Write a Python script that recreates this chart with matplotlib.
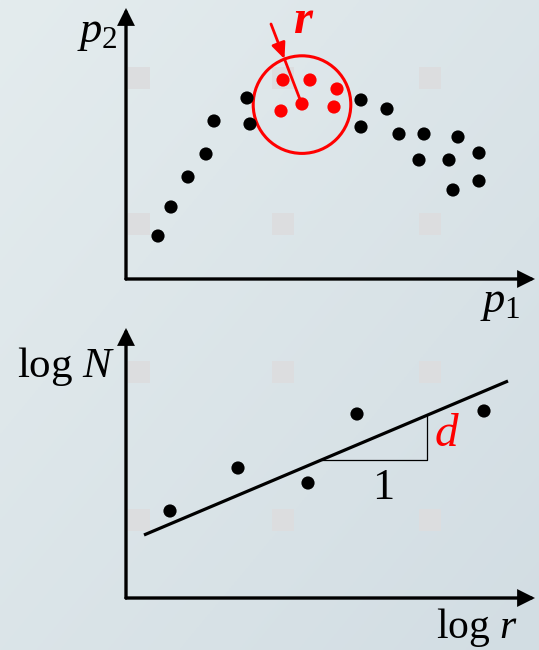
import numpy as np
import matplotlib.pyplot as plt
from matplotlib.patches import Circle, Rectangle

plt.rcParams['font.family'] = ['Liberation Serif', 'DejaVu Serif']
plt.rcParams['mathtext.fontset'] = 'custom'
plt.rcParams['mathtext.rm'] = 'Liberation Serif'
plt.rcParams['mathtext.it'] = 'Liberation Serif:italic'
plt.rcParams['mathtext.bf'] = 'Liberation Serif:bold'
plt.rcParams['mathtext.bfit'] = 'Liberation Serif:italic:bold'

# ---- phase-space samples (p1, p2) ----
p1_black = [0.80, 1.125, 1.55, 2.00, 2.20, 3.025, 3.10, 5.875, 5.875, 6.525,
            6.825, 7.45, 8.30, 7.325, 8.075, 8.825, 8.825, 8.175]
p2_black = [1.075, 1.80, 2.55, 3.125, 3.95, 4.525, 3.875, 4.475, 3.80, 4.25,
            3.625, 3.625, 3.55, 2.975, 2.975, 3.15, 2.45, 2.225]
# points falling inside the ball of radius r
p1_red = [3.925, 4.60, 5.275, 4.40, 3.875, 5.20]
p2_red = [4.975, 4.975, 4.75, 4.375, 4.20, 4.30]
ball_center = (4.40, 4.36)
ball_radius = 1.22
r_arrow_tail = (3.625, 6.375)

# ---- log-log counts ----
log_r = [1.10, 2.80, 4.55, 5.775, 8.95]
log_N = [2.175, 3.25, 2.875, 4.60, 4.675]
fit_slope = 0.423
fit_intercept = 1.385
fit_range = (0.45, 9.55)
slope_run = (4.90, 7.525)

W, H = 539, 650
fig = plt.figure(figsize=(W / 100, H / 100), dpi=100)

# soft bluish-grey backdrop
bg = fig.add_axes([0, 0, 1, 1])
bg.axis('off')
yy, xx = np.mgrid[0:1:200j, 0:1:200j]
t = 0.5 * xx + 0.5 * yy
c0 = np.array([228, 236, 238]) / 255
c1 = np.array([210, 221, 227]) / 255
bg.imshow(c0 + (c1 - c0) * t[..., None], extent=[0, 1, 0, 1],
          origin='upper', aspect='auto', zorder=0)
bg.set_xlim(0, 1)
bg.set_ylim(0, 1)
for sx in [128, 272, 419]:
    for sy in [67, 213, 361, 509]:
        bg.add_patch(Rectangle((sx / W, 1 - (sy + 22) / H), 22 / W, 22 / H,
                               facecolor='#dcdddf', edgecolor='none', zorder=1))

RED = '#ff0000'
XMAX = 10.225


def make_panel(rect, ymax):
    ax = fig.add_axes(rect)
    ax.set_xlim(0, XMAX)
    ax.set_ylim(0, ymax)
    ax.axis('off')
    style = '-|>,head_length=0.9,head_width=0.45'
    for end in [(XMAX, 0), (0, ymax)]:
        ax.annotate('', xy=end, xytext=(0, 0), annotation_clip=False,
                    arrowprops=dict(arrowstyle=style, lw=2.4, color='black',
                                    shrinkA=0, shrinkB=0, mutation_scale=10,
                                    joinstyle='miter'))
    return ax


# ---- top panel: phase space with a ball ----
ax1 = make_panel([126 / W, 1 - 279 / H, 409 / W, 271 / H], 6.775)
ax1.scatter(p1_black, p2_black, s=90, color='black', edgecolors='none',
            zorder=3, clip_on=False)
ax1.scatter(p1_red, p2_red, s=90, color=RED, edgecolors='none', zorder=3,
            clip_on=False)
ax1.add_patch(Circle(ball_center, ball_radius, fill=False, edgecolor=RED,
                     lw=2.2, zorder=2))
cx, cy = ball_center
tx, ty = r_arrow_tail
dx, dy = tx - cx, ty - cy
dist = np.hypot(dx, dy)
edge = (cx + dx / dist * ball_radius, cy + dy / dist * ball_radius)
ax1.plot([edge[0], cx], [edge[1], cy], color=RED, lw=2.0, zorder=2)
ax1.annotate('', xy=edge, xytext=r_arrow_tail, annotation_clip=False,
             arrowprops=dict(arrowstyle='-|>,head_length=0.95,head_width=0.42',
                             lw=2.0, color=RED, shrinkA=0, shrinkB=0,
                             mutation_scale=10))
ax1.text(4.45, 6.44, r'$\mathbfit{r}$', color=RED, fontsize=35,
         ha='center', va='center')
ax1.text(-0.72, 6.15, r'$p_2$', fontsize=32, ha='center', va='center')
ax1.text(9.35, -0.61, r'$p_1$', fontsize=32, ha='center', va='center')

# ---- bottom panel: log N versus log r ----
ax2 = make_panel([126 / W, 1 - 598 / H, 409 / W, 270 / H], 6.75)
ax2.scatter(log_r, log_N, s=90, color='black', edgecolors='none', zorder=3,
            clip_on=False)
fx = np.array(fit_range)
ax2.plot(fx, fit_intercept + fit_slope * fx, color='black', lw=2.3,
         solid_capstyle='butt', clip_on=False)
x0, x1 = slope_run
y0 = fit_intercept + fit_slope * x0
y1 = fit_intercept + fit_slope * x1
ax2.plot([x0, x1, x1], [y0, y0, y1], color='black', lw=0.9)
ax2.text(6.425, 2.75, '1', fontsize=32, ha='center', va='center')
ax2.text(8.01, 4.09, r'$d$', color=RED, fontsize=34, ha='center',
         va='center')
ax2.text(-1.5, 5.775, r'$\log\,N$', fontsize=31, ha='center', va='center')
ax2.text(8.76, -0.74, r'$\log\,r$', fontsize=30, ha='center', va='center')

fig.savefig('out.png', dpi=100)
